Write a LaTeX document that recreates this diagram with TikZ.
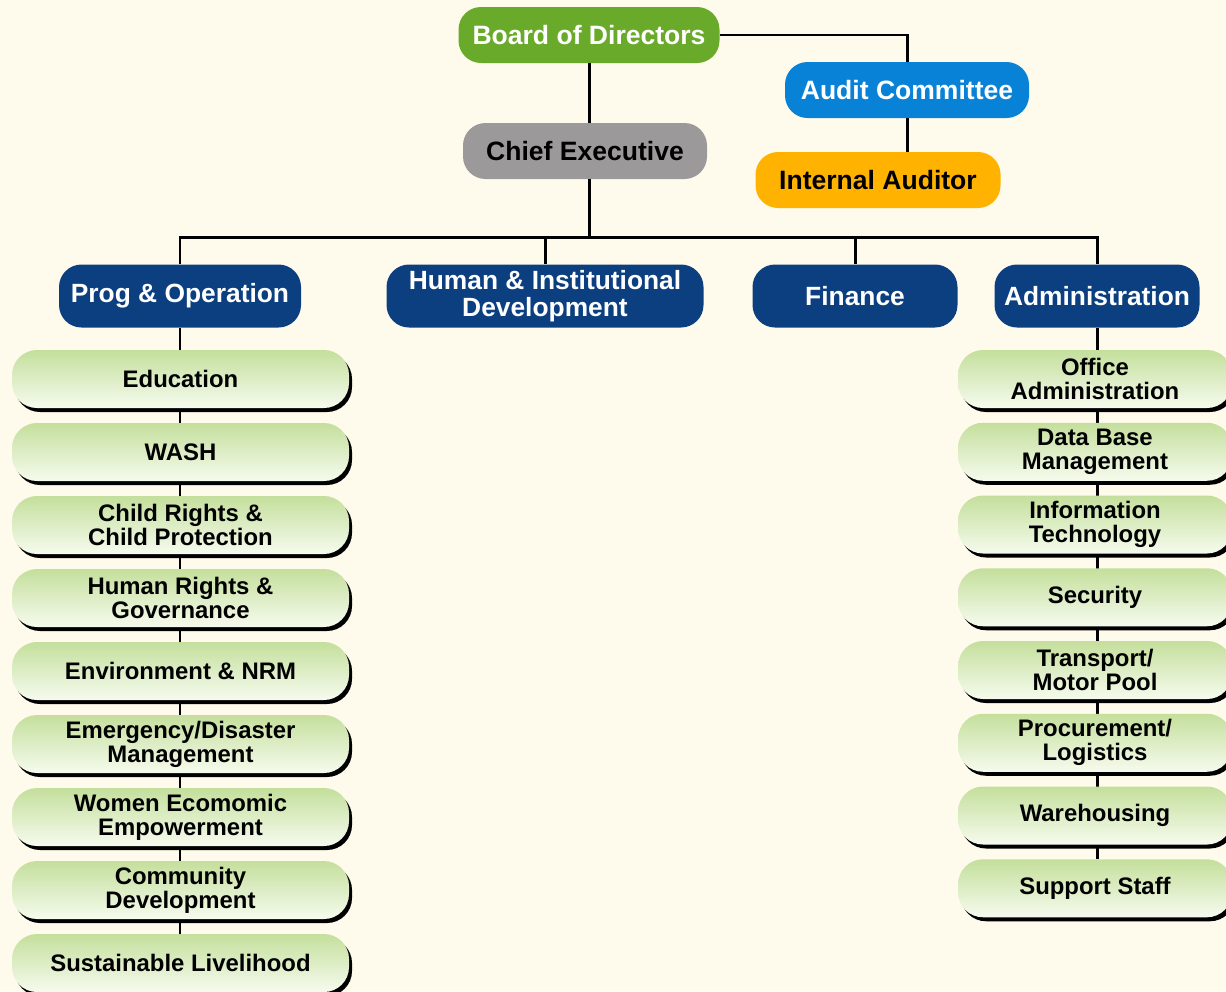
\documentclass[tikz,border=0pt]{standalone}
\usepackage{fontspec}
\setmainfont{Liberation Sans}
\usetikzlibrary{shapes, positioning, shadows, backgrounds}

\definecolor{bgcream}{RGB}{255,251,236}
\definecolor{boardgreen}{RGB}{106,170,42}
\definecolor{auditblue}{RGB}{8,130,214}
\definecolor{chiefgray}{RGB}{155,153,153}
\definecolor{auditororange}{RGB}{255,179,0}
\definecolor{deptblue}{RGB}{11,63,128}
\definecolor{unittop}{RGB}{196,223,156}
\definecolor{unitbottom}{RGB}{246,251,238}

\tikzset{
  topbox/.style={rounded corners=0.45cm, minimum height=1.12cm, inner sep=0pt,
    font=\fontsize{15.1}{17}\selectfont\bfseries, text centered},
  deptbox/.style={rounded corners=0.45cm, minimum height=1.26cm, inner sep=0pt,
    fill=deptblue, text=white, align=center,
    font=\fontsize{15}{15}\selectfont\bfseries},
  unitbox/.style={rounded corners=0.5cm, minimum height=1.16cm, inner sep=0pt,
    top color=unittop, bottom color=unitbottom, align=center,
    font=\fontsize{13.6}{13.6}\selectfont\bfseries,
    drop shadow={shadow xshift=0.06cm, shadow yshift=-0.08cm, fill=black, opacity=1}},
  link/.style={line width=1.7pt}
}

\begin{document}
\begin{tikzpicture}
      \useasboundingbox (0,0) rectangle (24.52,-19.82);

      % top %
      \node[topbox, fill=boardgreen, text=white, minimum width=5.22cm] (board) at (11.78,-0.70) {Board of Directors};
      \node[topbox, fill=auditblue, text=white, minimum width=4.88cm] (audit) at (18.14,-1.80) {Audit Committee};
      \node[topbox, fill=chiefgray, minimum width=4.88cm] (chief) at (11.70,-3.02) {Chief Executive};
      \node[topbox, fill=auditororange, minimum width=4.90cm] (auditor) at (17.56,-3.60) {Internal Auditor};

      % departments %
      \node[deptbox, minimum width=4.84cm] (prog) at (3.60,-5.92) {Prog \& Operation};
      \node[deptbox, minimum width=6.34cm] (hid) at (10.90,-5.92) {Human \& Institutional\\Development};
      \node[deptbox, minimum width=4.10cm] (fin) at (17.10,-5.92) {Finance};
      \node[deptbox, minimum width=4.10cm] (admin) at (21.94,-5.92) {Administration};

      \coordinate (bus) at (11.78,-4.74);

      % edges %
      \draw[link] (board) -- (chief.north -| board);
      \draw[link] (board.east) -| (audit.north);
      \draw[link] (audit.south) -- (audit.south |- auditor.north);
      \draw[link] (chief.south -| bus) -- (bus);
      \draw[link] (prog.north) |- (bus) -| (admin.north);
      \draw[link] (hid.north) -- (hid.north |- bus);
      \draw[link] (fin.north) -- (fin.north |- bus);

      % programme units %
      \node[unitbox, minimum width=6.74cm] (edu) at (3.61,-7.58) {Education};
      \node[unitbox, minimum width=6.74cm, below of=edu, node distance=1.46cm] (wash) {WASH};
      \node[unitbox, minimum width=6.74cm, below of=wash, node distance=1.46cm] (child) {Child Rights \&\\Child Protection};
      \node[unitbox, minimum width=6.74cm, below of=child, node distance=1.46cm] (rights) {Human Rights \&\\Governance};
      \node[unitbox, minimum width=6.74cm, below of=rights, node distance=1.46cm] (env) {Environment \& NRM};
      \node[unitbox, minimum width=6.74cm, below of=env, node distance=1.46cm] (emerg) {Emergency/Disaster\\Management};
      \node[unitbox, minimum width=6.74cm, below of=emerg, node distance=1.46cm] (women) {Women Ecomomic\\Empowerment};
      \node[unitbox, minimum width=6.74cm, below of=women, node distance=1.46cm] (comm) {Community\\Development};
      \node[unitbox, minimum width=6.74cm, below of=comm, node distance=1.46cm] (live) {Sustainable Livelihood};

      % administration units %
      \node[unitbox, minimum width=5.48cm] (office) at (21.90,-7.58) {Office\\Administration};
      \node[unitbox, minimum width=5.48cm, below of=office, node distance=1.455cm] (data) {Data Base\\Management};
      \node[unitbox, minimum width=5.48cm, below of=data, node distance=1.455cm] (info) {Information\\Technology};
      \node[unitbox, minimum width=5.48cm, below of=info, node distance=1.455cm] (sec) {Security};
      \node[unitbox, minimum width=5.48cm, below of=sec, node distance=1.455cm] (trans) {Transport/\\Motor Pool};
      \node[unitbox, minimum width=5.48cm, below of=trans, node distance=1.455cm] (proc) {Procurement/\\Logistics};
      \node[unitbox, minimum width=5.48cm, below of=proc, node distance=1.455cm] (ware) {Warehousing};
      \node[unitbox, minimum width=5.48cm, below of=ware, node distance=1.455cm] (support) {Support Staff};

      % column edges, behind the boxes %
      \begin{scope}[on background layer]
        \fill[bgcream] (0,0) rectangle (24.52,-19.82);
        \draw[link] (prog.south) -- (prog.south |- live.north);
        \draw[link] (admin.south) -- (admin.south |- support.north);
      \end{scope}
\end{tikzpicture}
\end{document}
